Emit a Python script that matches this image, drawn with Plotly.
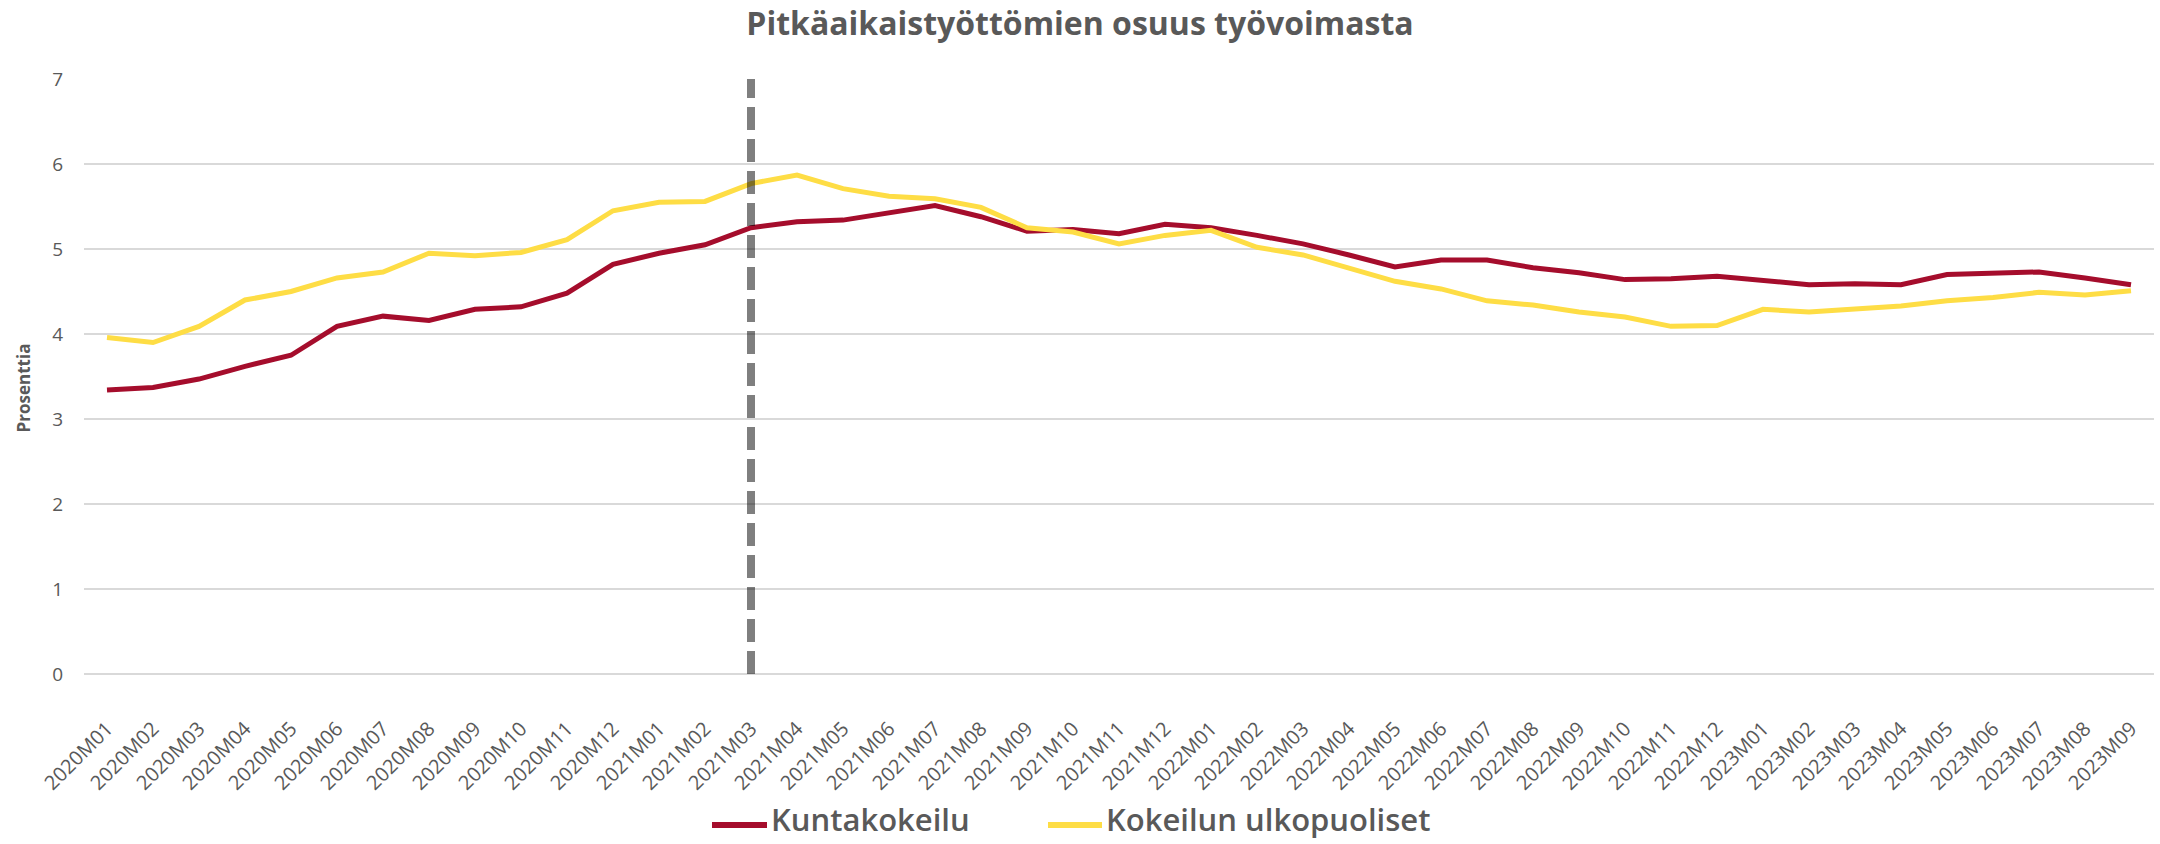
import plotly.graph_objects as go

# Monthly periods 2020M01 .. 2023M09
months = [f"{y}M{m:02d}" for y in (2020, 2021, 2022, 2023) for m in range(1, 13)][:45]

# Share of long-term unemployed in the labour force (%)
kuntakokeilu = [
    3.34, 3.37, 3.47, 3.62, 3.75, 4.09, 4.21, 4.16, 4.29, 4.32,
    4.48, 4.82, 4.95, 5.05, 5.25, 5.32, 5.34, 5.42, 5.51, 5.38,
    5.21, 5.23, 5.18, 5.29, 5.25, 5.16, 5.06, 4.93, 4.79, 4.87,
    4.87, 4.78, 4.72, 4.64, 4.65, 4.68, 4.63, 4.58, 4.59, 4.58,
    4.70, 4.71, 4.73, 4.66, 4.58,
]
ulkopuoliset = [
    3.96, 3.90, 4.09, 4.40, 4.50, 4.66, 4.73, 4.95, 4.92, 4.96,
    5.11, 5.45, 5.55, 5.56, 5.77, 5.87, 5.71, 5.62, 5.59, 5.49,
    5.25, 5.20, 5.06, 5.16, 5.22, 5.02, 4.93, 4.77, 4.62, 4.53,
    4.39, 4.34, 4.26, 4.20, 4.09, 4.10, 4.29, 4.26, 4.30, 4.33,
    4.39, 4.43, 4.49, 4.46, 4.51,
]

series_names = ["Kuntakokeilu", "Kokeilun ulkopuoliset"]
series_colors = ["#a50d2c", "#fedd45"]

# Start of the municipal trial
trial_start = "2021M03"

y_ticks = [0, 1, 2, 3, 4, 5, 6, 7]

TEXT = "#595959"
FONT = "Open Sans"

W, H = 2160, 844
M_L, M_R, M_T, M_B = 84, 6, 79, 170
PLOT_W = W - M_L - M_R
PLOT_H = H - M_T - M_B


def px_to_paper_x(px):
    return (px - M_L) / PLOT_W


def px_to_paper_y(py):
    return (H - M_B - py) / PLOT_H


fig = go.Figure()
for name, vals, col in zip(series_names, [kuntakokeilu, ulkopuoliset], series_colors):
    fig.add_trace(go.Scatter(
        x=months, y=vals, name=name, mode="lines",
        line=dict(color=col, width=5), showlegend=False,
    ))

fig.add_shape(
    type="line", xref="x", yref="y",
    x0=trial_start, x1=trial_start, y0=y_ticks[0], y1=y_ticks[-1],
    line=dict(color="rgba(0,0,0,0.5)", width=8, dash="23px,9px"),
    layer="above",
)

# Legend row below the axis: a short line sample followed by the series name
legend_line_y = px_to_paper_y(825)
legend_text_y = px_to_paper_y(819)
legend_line_x = [(712, 767), (1048, 1102)]
for name, col, (lx0, lx1) in zip(series_names, series_colors, legend_line_x):
    fig.add_shape(
        type="line", xref="paper", yref="paper",
        x0=px_to_paper_x(lx0), x1=px_to_paper_x(lx1),
        y0=legend_line_y, y1=legend_line_y,
        line=dict(color=col, width=6),
    )
    fig.add_annotation(
        text=name, xref="paper", yref="paper",
        x=px_to_paper_x(lx1 + 2), y=legend_text_y,
        xanchor="left", yanchor="middle", showarrow=False,
        font=dict(family=FONT, size=31, color=TEXT, weight=600),
    )

fig.add_annotation(
    text="<b>Prosenttia</b>", textangle=-90,
    xref="paper", yref="paper", x=px_to_paper_x(23), y=0.48,
    xanchor="center", yanchor="middle", showarrow=False,
    font=dict(family=FONT, size=17, color=TEXT),
)

fig.update_layout(
    width=W, height=H,
    margin=dict(l=M_L, r=M_R, t=M_T, b=M_B),
    paper_bgcolor="white", plot_bgcolor="white",
    font=dict(family=FONT, color=TEXT),
    showlegend=False,
    title=dict(
        text="<b>Pitkäaikaistyöttömien osuus työvoimasta</b>",
        x=0.5, xref="container", xanchor="center",
        y=1 - 24 / H, yref="container", yanchor="middle",
        font=dict(family=FONT, size=32, color=TEXT),
    ),
    xaxis=dict(
        type="category", range=[-0.5, len(months) - 0.5],
        tickangle=-45, tickfont=dict(family=FONT, size=20, color=TEXT),
        showgrid=False, showline=False, ticks="", ticklabelstandoff=38,
        automargin=False,
    ),
    yaxis=dict(
        range=[y_ticks[0], y_ticks[-1]], tickvals=y_ticks,
        tickfont=dict(family=FONT, size=19, color=TEXT),
        showgrid=True, gridcolor="#d9d9d9", gridwidth=2,
        zeroline=True, zerolinecolor="#d9d9d9", zerolinewidth=2,
        showline=False, ticks="", ticklabelstandoff=20,
        automargin=False,
    ),
)

fig.write_html("out.html")
